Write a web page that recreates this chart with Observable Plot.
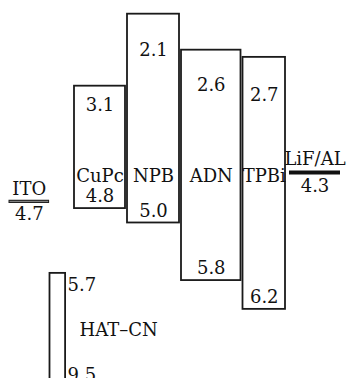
<!DOCTYPE html>
<html>
<head>
<meta charset="utf-8">
<script src="https://cdn.jsdelivr.net/npm/d3@7"></script>
<script src="https://cdn.jsdelivr.net/npm/@observablehq/plot@0.6"></script>
<style>
  html, body { margin: 0; padding: 0; background: #fff; overflow: hidden; }
</style>
</head>
<body>
<div id="chart"></div>
<script>
// Energy levels (eV, absolute values)
const layers = ["CuPc", "NPB", "ADN", "TPBi"];
const lumo = [3.1, 2.1, 2.6, 2.7];
const homo = [4.8, 5.0, 5.8, 6.2];

const electrodes = ["ITO", "LiF/AL"];
const workFunction = [4.7, 4.3];

const hilName = "HAT–CN";
const hilLumo = 5.7;
const hilHomo = 9.5;

const fmt = d3.format(".1f");
const boxes = layers.map((name, i) => ({name, lumo: lumo[i], homo: homo[i]}));
const elec = electrodes.map((name, i) => ({name, wf: workFunction[i]}));
const hil = [{name: hilName, lumo: hilLumo, homo: hilHomo}];

const font = "'DejaVu Serif', 'Liberation Serif', serif";
const fs = 18;
const ink = "#111";

const ito = elec.filter(d => d.name === "ITO");
const cath = elec.filter(d => d.name !== "ITO");

// per-box drawing adjustments (style only: widen ADN, narrow TPBi)
const boxStyle = {
  CuPc: {insetLeft: -1, insetRight: 1, lumoDy: 19},
  NPB: {insetLeft: -1, insetRight: 0, lumoDy: 36},
  ADN: {insetLeft: 0, insetRight: -8.5, lumoDy: 35},
  TPBi: {insetLeft: 8.5, insetRight: 0, lumoDy: 38}
};

const boxMarks = boxes.flatMap(b => {
  const s = boxStyle[b.name];
  const dx = (s.insetLeft - s.insetRight) / 2;
  return [
    Plot.barY([b], {x: "name", y1: "lumo", y2: "homo", fill: "#fff", stroke: "#1a1a1a", strokeWidth: 1.8,
      insetLeft: s.insetLeft, insetRight: s.insetRight}),
    Plot.text([b], {x: "name", y: "lumo", text: d => fmt(d.lumo), dx, dy: s.lumoDy, fontFamily: font, fontSize: fs}),
    Plot.text([b], {x: "name", y: "homo", text: d => fmt(d.homo), dx, dy: -12, fontFamily: font, fontSize: fs}),
    Plot.text([b], {x: "name", text: "name", frameAnchor: "top", lineAnchor: "middle", dx, dy: 176, fontFamily: font, fontSize: fs})
  ];
});

const chart = Plot.plot({
  width: 349,
  height: 378,
  marginTop: 0,
  marginBottom: 0,
  marginLeft: 20.5,
  marginRight: 9.4,
  style: {background: "#fff", fontFamily: font, fontSize: fs + "px", color: ink},
  x: {type: "band", domain: ["ITO", ...layers, "LiF/AL"], paddingInner: 0.04, paddingOuter: 0, axis: null},
  y: {domain: [1.91, 7.16], reverse: true, axis: null},
  marks: [
    ...boxMarks,

    // HAT-CN layer (extends below the frame)
    Plot.barY(hil, {x: () => "ITO", y1: "lumo", y2: "homo", fill: "#fff", stroke: "#1a1a1a", strokeWidth: 1.8,
      insetLeft: 27.5, insetRight: 7.9, clip: true}),
    Plot.text(hil, {x: () => "ITO", y: "lumo", text: d => fmt(d.lumo), dx: 19.5, dy: 12, textAnchor: "start", fontFamily: font, fontSize: fs}),
    Plot.text(hil, {x: () => "ITO", y: "lumo", text: "name", dx: 31.5, dy: 57, textAnchor: "start", fontFamily: font, fontSize: fs}),
    Plot.text(hil, {x: () => "ITO", text: d => fmt(d.homo), frameAnchor: "bottom", lineAnchor: "bottom", dx: 19.5, dy: 2, textAnchor: "start", fontFamily: font, fontSize: fs}),

    // ITO anode
    Plot.tickY(ito, {x: "name", y: "wf", stroke: "#222", strokeWidth: 3.2, dx: -13.5, insetRight: 10.4}),
    Plot.tickY(ito, {x: "name", y: "wf", stroke: "#9a9a9a", strokeWidth: 0.9, dx: -13.5, insetRight: 11.4, insetLeft: 1}),
    Plot.text(ito, {x: "name", y: "wf", text: "name", dx: -18.7, dy: -12, fontFamily: font, fontSize: fs}),
    Plot.text(ito, {x: "name", y: "wf", text: d => fmt(d.wf), dx: -18.7, dy: 13, fontFamily: font, fontSize: fs}),

    // LiF/Al cathode
    Plot.tickY(cath, {x: "name", y: "wf", stroke: "#111", strokeWidth: 4, dx: 2}),
    Plot.text(cath, {x: "name", y: "wf", text: "name", dx: 2, dy: -13, fontFamily: font, fontSize: fs}),
    Plot.text(cath, {x: "name", y: "wf", text: d => fmt(d.wf), dx: 2, dy: 14, fontFamily: font, fontSize: fs})
  ]
});

document.getElementById("chart").appendChild(chart);
</script>
</body>
</html>
